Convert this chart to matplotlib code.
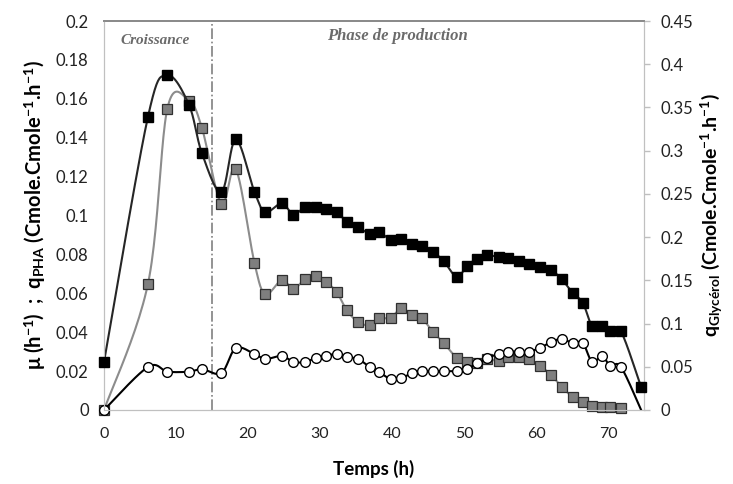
import numpy as np
import matplotlib
matplotlib.use("Agg")
import matplotlib.pyplot as plt
from matplotlib.ticker import FuncFormatter

plt.rcParams['font.family'] = ['Lato', 'DejaVu Sans']
plt.rcParams['mathtext.fontset'] = 'custom'
plt.rcParams['mathtext.rm'] = 'Lato'
plt.rcParams['mathtext.bf'] = 'Lato:bold'
plt.rcParams['mathtext.it'] = 'Lato:italic'

# time (h)
temps = [0, 6.1, 8.8, 11.8, 13.6, 16.3, 18.3, 20.9, 22.4, 24.7, 26.3, 27.9, 29.4,
         30.8, 32.3, 33.7, 35.3, 36.9, 38.2, 39.8, 41.3, 42.8, 44.1, 45.7, 47.2,
         49.0, 50.4, 51.8, 53.2, 54.8, 56.1, 57.6, 59.0, 60.6, 62.1, 63.6, 65.1,
         66.5, 67.8, 69.2, 70.3, 71.8, 74.6]

# q glycerol (right axis)
q_gly = [0.0556, 0.339, 0.387, 0.353, 0.297, 0.252, 0.313, 0.252, 0.229, 0.239,
         0.226, 0.235, 0.235, 0.232, 0.229, 0.218, 0.2115, 0.204, 0.206, 0.197,
         0.198, 0.192, 0.190, 0.183, 0.172, 0.154, 0.1665, 0.175, 0.179, 0.177,
         0.1755, 0.172, 0.169, 0.165, 0.162, 0.151, 0.1355, 0.124, 0.097, 0.097,
         0.091, 0.091, 0.0265]

# q PHA (left axis)
q_pha = [0, 0.0648, 0.155, 0.159, 0.145, 0.106, 0.124, 0.0755, 0.0596, 0.0668,
         0.0622, 0.0673, 0.0689, 0.0658, 0.0607, 0.0514, 0.0452, 0.0437, 0.0473,
         0.0473, 0.0524, 0.0488, 0.0473, 0.0401, 0.0344, 0.0267, 0.0247, 0.0242,
         0.0262, 0.0252, 0.0273, 0.0273, 0.0262, 0.0226, 0.018, 0.0118, 0.0067,
         0.0041, 0.002, 0.0015, 0.0015, 0.001]

# mu (left axis)
mu = [0, 0.0221, 0.0197, 0.0197, 0.021, 0.019, 0.0318, 0.0288, 0.0262, 0.0278,
      0.0247, 0.0247, 0.0267, 0.0278, 0.0288, 0.0273, 0.0262, 0.0221, 0.0195,
      0.016, 0.0165, 0.019, 0.02, 0.02, 0.02, 0.02, 0.021, 0.024, 0.0267, 0.0288,
      0.03, 0.03, 0.03, 0.032, 0.035, 0.0365, 0.0344, 0.0344, 0.0247, 0.0278,
      0.0226, 0.0221, 0]

t_switch = 15


def smooth(x, y, n=24):
    # excel-like smoothed line (catmull-rom as bezier)
    x = np.asarray(x, float)
    y = np.asarray(y, float)
    px = np.concatenate([[x[0]], x, [x[-1]]])
    py = np.concatenate([[y[0]], y, [y[-1]]])
    t = np.linspace(0, 1, n)
    xs, ys = [], []
    for i in range(len(x) - 1):
        x0, x1, x2, x3 = px[i:i + 4]
        y0, y1, y2, y3 = py[i:i + 4]
        cx1, cy1 = x1 + (x2 - x0) / 6, y1 + (y2 - y0) / 6
        cx2, cy2 = x2 - (x3 - x1) / 6, y2 - (y3 - y1) / 6
        a, b, c, d = (1 - t) ** 3, 3 * (1 - t) ** 2 * t, 3 * (1 - t) * t ** 2, t ** 3
        xs.append(a * x1 + b * cx1 + c * cx2 + d * x2)
        ys.append(a * y1 + b * cy1 + c * cy2 + d * y2)
    return np.concatenate(xs), np.concatenate(ys)


fig = plt.figure(figsize=(7.33, 4.84), dpi=100)
ax = fig.add_axes([0.1419, 0.1529, 0.8786 - 0.1419, 0.9566 - 0.1529])
ax2 = ax.twinx()

# q PHA grey squares
sx, sy = smooth(temps[:len(q_pha)], q_pha)
ax.plot(sx, sy, color='#8c8c8c', lw=1.5, zorder=2)
ax.plot(temps[:len(q_pha)], q_pha, ls='none', marker='s', ms=6.5,
        mfc='#7f7f7f', mec='#303030', mew=0.9, zorder=3, clip_on=False)

# mu white circles
sx, sy = smooth(temps, mu)
ax.plot(sx, sy, color='black', lw=1.5, zorder=4)
ax.plot(temps[:-1], mu[:-1], ls='none', marker='o', ms=7,
        mfc='white', mec='black', mew=1.0, zorder=5, clip_on=False)

# q glycerol black squares
sx, sy = smooth(temps, q_gly)
ax2.plot(sx, sy, color='#262626', lw=1.5, zorder=2)
ax2.plot(temps, q_gly, ls='none', marker='s', ms=6.8,
         mfc='black', mec='black', zorder=3, clip_on=False)

ax.axvline(t_switch, color='#808080', lw=1.2, ls='-.', zorder=1)

ax.set_xlim(0, 75)
ax.set_ylim(0, 0.2)
ax2.set_ylim(0, 0.45)
ax.set_xticks(np.arange(0, 71, 10))
ax.set_yticks(np.arange(0, 0.201, 0.02))
ax2.set_yticks(np.arange(0, 0.451, 0.05))
fmt = FuncFormatter(lambda v, p: '{:g}'.format(round(v, 3)))
ax.yaxis.set_major_formatter(fmt)
ax2.yaxis.set_major_formatter(fmt)

ax.tick_params(axis='x', length=0, pad=12, labelsize=11.5, colors='#222222')
ax.tick_params(axis='y', length=0, pad=11, labelsize=12, colors='#222222')
ax2.tick_params(axis='y', length=4, width=1, color='#bfbfbf', pad=8,
                labelsize=12, labelcolor='#222222')

for a in (ax, ax2):
    a.spines['left'].set_color('#c0c0c0')
    a.spines['bottom'].set_color('#c0c0c0')
    a.spines['right'].set_color('#c0c0c0')
    a.spines['top'].set_color('#8a8a8a')
    a.spines['top'].set_linewidth(1.3)

ax.set_xlabel('Temps (h)', fontsize=13.5, fontweight='bold', labelpad=14)
ax.set_ylabel(r'μ (h$^{\mathbf{-1}}$)  ;  q$_{\mathbf{PHA}}$ (Cmole.Cmole$^{\mathbf{-1}}$.h$^{\mathbf{-1}}$)',
              fontsize=14.5, fontweight='bold', labelpad=6)
ax2.set_ylabel(r'q$_{\mathbf{Glycérol}}$ (Cmole.Cmole$^{\mathbf{-1}}$.h$^{\mathbf{-1}}$)',
               fontsize=14, fontweight='bold', rotation=90, labelpad=4)

ax.text(7.1, 0.19, 'Croissance', family='Liberation Serif', style='italic',
        fontweight='bold', color='#6b6b6b', fontsize=11, ha='center', va='center')
ax.text(40.8, 0.1925, 'Phase de production', family='Liberation Serif', style='italic',
        fontweight='bold', color='#6b6b6b', fontsize=12, ha='center', va='center')

fig.savefig('out.png', dpi=100)
